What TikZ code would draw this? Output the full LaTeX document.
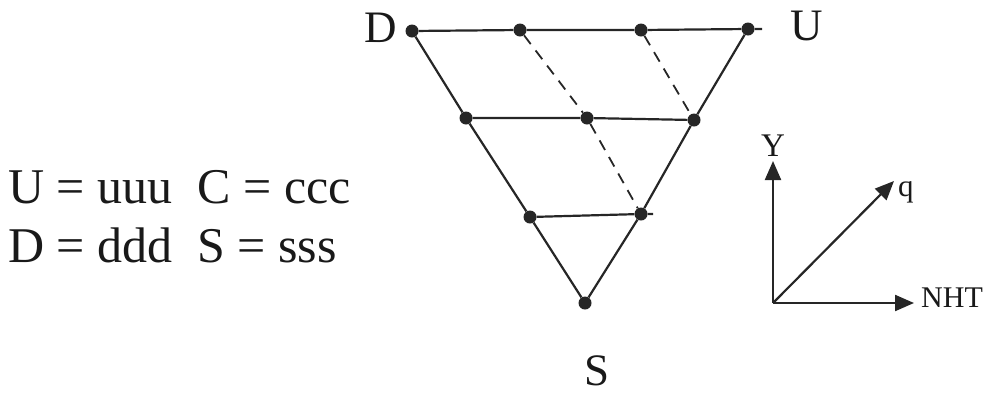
\documentclass[tikz,border=0pt]{standalone}
\usepackage{fontspec}
\setmainfont{Liberation Serif}
\usetikzlibrary{arrows.meta}
\begin{document}
\begin{tikzpicture}[x=1pt,y=-1pt,
  dot/.style={circle,fill=black!85,inner sep=0pt,minimum size=13pt},
  ln/.style={line width=2.2pt,black!85},
  dsh/.style={line width=1.8pt,black!85,dash pattern=on 11pt off 8pt},
  ax/.style={line width=2.2pt,black!85,-{Triangle[length=19pt,width=16pt]}},
  lab/.style={inner sep=0pt,text=black!90}]
\useasboundingbox (0,0) rectangle (1000,400);
% dots
\node[dot] (D) at (412,31) {};
\node[dot] (t1) at (520,30) {};
\node[dot] (t2) at (641,30) {};
\node[dot] (U) at (748,29) {};
\coordinate (tend) at (762,29);
\node[dot] (m1) at (466,118) {};
\node[dot] (m2) at (587,118) {};
\node[dot] (m3) at (694,120) {};
\node[dot] (b1) at (530,217) {};
\node[dot] (b2) at (641,214) {};
\coordinate (bend) at (653,214);
\node[dot] (S) at (585,303) {};
% solid lines
\draw[ln] (D) -- (t1) -- (t2) -- (U) -- (tend);
\draw[ln] (D) -- (m1) -- (b1) -- (S);
\draw[ln] (U) -- (m3) -- (b2) -- (S);
\draw[ln] (m1) -- (m2) -- (m3);
\draw[ln] (b1) -- (b2) -- (bend);
% dashed
\draw[dsh] (t1) -- (m2) -- (b2);
\draw[dsh] (t2) -- (m3);
% labels
\node[lab,font=\fontsize{45}{50}\selectfont] (Dl) at (381,28) {D};
\node[lab,font=\fontsize{45}{50}\selectfont] (Ul) at (807,26) {U};
\node[lab,font=\fontsize{45}{50}\selectfont] (Sl) at (597,371) {S};
\node[lab,anchor=base west,font=\fontsize{50}{56}\selectfont] (t1l) at (8,203) {U = uuu\ \ C = ccc};
\node[lab,anchor=base west,font=\fontsize{50}{56}\selectfont] (t2l) at (8,262) {D = ddd\ \ S = sss};
% axes
\coordinate (O) at (773,303);
\coordinate (Yt) at (773,161);
\coordinate (Nt) at (914,303);
\coordinate (Qt) at (894,181);
\draw[ax] (O) -- (Yt);
\draw[ax] (O) -- (Nt);
\draw[ax] (O) -- (Qt);
\node[lab,font=\fontsize{33}{36}\selectfont] (Yl) at (773,146) {Y};
\node[lab,anchor=base west,font=\fontsize{31}{34}\selectfont] (ql) at (898,196) {q};
\node[lab,anchor=base west,font=\fontsize{30}{34}\selectfont] (Nl) at (921,307) {NHT};
\end{tikzpicture}
\end{document}
